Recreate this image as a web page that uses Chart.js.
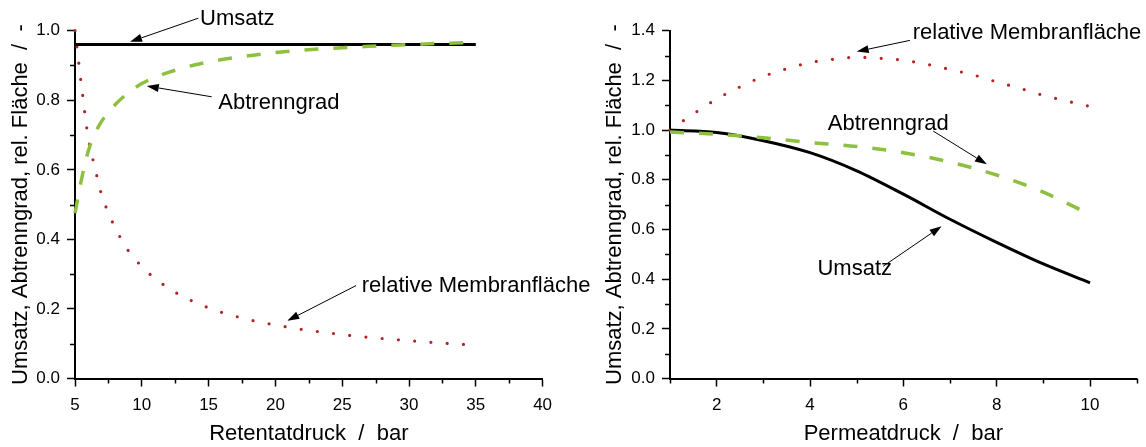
<!DOCTYPE html>
<html>
<head>
<meta charset="utf-8">
<script src="https://cdn.jsdelivr.net/npm/chart.js@4/dist/chart.umd.min.js"></script>
<style>
  html, body { margin: 0; padding: 0; background: #fff; }
  #wrap { position: relative; width: 1146px; height: 447px; }
  .box { position: absolute; top: 0; height: 447px; }
  #leftBox { left: 0; width: 620px; z-index: 2; }
  #rightBox { left: 573px; width: 573px; z-index: 1; }
</style>
</head>
<body>
<div id="wrap">
  <div class="box" id="leftBox"><canvas id="leftChart" width="620" height="447"></canvas></div>
  <div class="box" id="rightBox"><canvas id="rightChart" width="573" height="447"></canvas></div>
</div>
<script>
// left panel: Retentatdruck
const retentatDruck = [5, 5.5, 6, 6.5, 7, 7.5, 8, 9, 10, 11, 12, 13, 14, 15, 16, 17, 18, 19, 20, 22, 24, 26, 28, 30, 32, 35];
const umsatzRetentat = [0.96, 0.96, 0.96, 0.96, 0.96, 0.96, 0.96, 0.96, 0.96, 0.96, 0.96, 0.96, 0.96, 0.96, 0.96, 0.96, 0.96, 0.96, 0.96, 0.96, 0.96, 0.96, 0.96, 0.96, 0.96, 0.96];
const abtrennRetentat = [0.475, 0.575, 0.655, 0.705, 0.74, 0.765, 0.787, 0.822, 0.848, 0.866, 0.88, 0.892, 0.902, 0.91, 0.917, 0.923, 0.928, 0.933, 0.937, 0.944, 0.949, 0.953, 0.957, 0.96, 0.963, 0.966];
const flaecheRetentat = [1.0, 0.837, 0.69, 0.605, 0.527, 0.477, 0.434, 0.367, 0.322, 0.287, 0.26, 0.237, 0.219, 0.203, 0.19, 0.179, 0.169, 0.161, 0.154, 0.141, 0.131, 0.122, 0.115, 0.109, 0.103, 0.096];
const retentatTicks = [5, 10, 15, 20, 25, 30, 35, 40];
const retentatMinor = [7.5, 12.5, 17.5, 22.5, 27.5, 32.5, 37.5];
const leftYTicks = [0, 0.2, 0.4, 0.6, 0.8, 1.0];
const leftYMinor = [0.1, 0.3, 0.5, 0.7, 0.9];

// right panel: Permeatdruck
const permeatDruck = [1, 2, 3, 4, 5, 6, 7, 8, 9, 10];
const umsatzPermeat = [1.0, 0.99, 0.957, 0.909, 0.836, 0.742, 0.641, 0.548, 0.461, 0.385];
const abtrennPermeat = [0.992, 0.983, 0.969, 0.95, 0.934, 0.909, 0.871, 0.819, 0.75, 0.66];
const permeatDruckFein = [1, 1.5, 2, 2.5, 3, 3.5, 4, 4.5, 5, 5.5, 6, 6.5, 7, 7.5, 8, 8.5, 9, 9.5, 10];
const flaechePermeat = [1.0, 1.065, 1.125, 1.174, 1.216, 1.247, 1.272, 1.285, 1.293, 1.289, 1.281, 1.265, 1.244, 1.222, 1.194, 1.168, 1.14, 1.117, 1.095];
const permeatTicks = [2, 4, 6, 8, 10];
const permeatMinor = [1, 3, 5, 7, 9, 11];
const rightYTicks = [0, 0.2, 0.4, 0.6, 0.8, 1.0, 1.2, 1.4];
const rightYMinor = [0.1, 0.3, 0.5, 0.7, 0.9, 1.1, 1.3];

const FONT = "'Liberation Sans', Arial, sans-serif";
Chart.defaults.font.family = FONT;
Chart.defaults.color = "#000";

const toPoints = (xs, ys) => xs.map((x, i) => ({ x: x, y: ys[i] }));

// minor ticks + labels with arrows
const extrasPlugin = {
  id: "extras",
  afterDraw: (chart, args, opts) => {
    const ctx = chart.ctx;
    const xs = chart.scales.x;
    const ys = chart.scales.y;
    const area = chart.chartArea;
    ctx.save();
    ctx.strokeStyle = "#000";
    ctx.lineWidth = 1.5;
    ctx.beginPath();
    opts.xMinor.forEach((v) => {
      const px = Math.round(xs.getPixelForValue(v)) + 0.5;
      ctx.moveTo(px, area.bottom);
      ctx.lineTo(px, area.bottom + 5);
    });
    opts.yMinor.forEach((v) => {
      const py = Math.round(ys.getPixelForValue(v)) + 0.5;
      ctx.moveTo(area.left, py);
      ctx.lineTo(area.left - 5, py);
    });
    ctx.stroke();

    ctx.font = "22px " + FONT;
    ctx.fillStyle = "#000";
    ctx.textAlign = "left";
    ctx.textBaseline = "middle";
    opts.notes.forEach((n) => {
      ctx.fillText(n.text, xs.getPixelForValue(n.at[0]), ys.getPixelForValue(n.at[1]));
      const x0 = xs.getPixelForValue(n.from[0]);
      const y0 = ys.getPixelForValue(n.from[1]);
      const x1 = xs.getPixelForValue(n.to[0]);
      const y1 = ys.getPixelForValue(n.to[1]);
      const ang = Math.atan2(y1 - y0, x1 - x0);
      const len = 12, half = 4;
      ctx.lineWidth = 1;
      ctx.beginPath();
      ctx.moveTo(x0, y0);
      ctx.lineTo(x1 - Math.cos(ang) * len, y1 - Math.sin(ang) * len);
      ctx.stroke();
      ctx.beginPath();
      ctx.moveTo(x1, y1);
      ctx.lineTo(x1 - Math.cos(ang) * len - Math.sin(ang) * half, y1 - Math.sin(ang) * len + Math.cos(ang) * half);
      ctx.lineTo(x1 - Math.cos(ang) * len + Math.sin(ang) * half, y1 - Math.sin(ang) * len - Math.cos(ang) * half);
      ctx.closePath();
      ctx.fill();
    });
    ctx.restore();
  },
};

const makeChart = (canvasId, cfg) => {
  const lines = [
    {
      label: "Abtrenngrad",
      data: cfg.abtrenn,
      borderColor: "#8dc03f",
      borderWidth: 3.5,
      borderDash: [14, 15],
      order: 0,
    },
    {
      label: "Umsatz",
      data: cfg.umsatz,
      borderColor: "#000",
      borderWidth: 3,
      order: 1,
    },
    {
      label: "relative Membranfläche",
      data: cfg.flaeche,
      borderColor: "#b02428",
      borderWidth: 3.2,
      borderDash: [0, 16.3],
      borderCapStyle: "round",
      order: 2,
    },
  ];

  new Chart(document.getElementById(canvasId), {
    type: "line",
    data: { datasets: lines },
    options: {
      responsive: false,
      animation: false,
      events: [],
      layout: { padding: { top: 30.7, right: cfg.padRight, bottom: 0, left: 0 } },
      elements: {
        point: { radius: 0 },
        line: { cubicInterpolationMode: "monotone", fill: false },
      },
      datasets: { line: { clip: 8 } },
      plugins: {
        legend: { display: false },
        tooltip: { enabled: false },
        extras: { xMinor: cfg.xMinor, yMinor: cfg.yMinor, notes: cfg.notes },
      },
      scales: {
        x: {
          type: "linear",
          min: cfg.xMin,
          max: cfg.xMax,
          afterBuildTicks: (s) => { s.ticks = cfg.xTicks.map((v) => ({ value: v })); },
          afterFit: (s) => { s.height = 68.5; },
          border: { display: true, color: "#000", width: 2 },
          grid: { drawOnChartArea: false, drawTicks: true, tickLength: 8, tickWidth: 1.5, tickColor: "#000" },
          ticks: { font: { size: 17 }, padding: 9, maxRotation: 0, autoSkip: false },
          title: { display: true, text: cfg.xTitle, font: { size: 22 }, padding: { top: 0, bottom: 0 } },
        },
        y: {
          type: "linear",
          min: cfg.yMin,
          max: cfg.yMax,
          afterBuildTicks: (s) => { s.ticks = cfg.yTicks.map((v) => ({ value: v })); },
          afterFit: (s) => { s.width = cfg.yWidth; },
          border: { display: true, color: "#000", width: 2 },
          grid: { drawOnChartArea: false, drawTicks: true, tickLength: 8, tickWidth: 1.5, tickColor: "#000" },
          ticks: { font: { size: 17 }, padding: 7, autoSkip: false, callback: (v) => v.toFixed(1) },
          title: { display: true, text: "Umsatz, Abtrenngrad, rel. Fläche  /  -", font: { size: 22 }, padding: { top: cfg.yTitlePad, bottom: 0 } },
        },
      },
    },
    plugins: [extrasPlugin],
  });
};

makeChart("leftChart", {
  umsatz: toPoints(retentatDruck, umsatzRetentat),
  abtrenn: toPoints(retentatDruck, abtrennRetentat),
  flaeche: toPoints(retentatDruck, flaecheRetentat),
  xMin: 5, xMax: 40, yMin: 0, yMax: 1.0,
  xTicks: retentatTicks, xMinor: retentatMinor,
  yTicks: leftYTicks, yMinor: leftYMinor,
  xTitle: "Retentatdruck  /  bar",
  yWidth: 75, yTitlePad: 7.3, padRight: 77.4,
  notes: [
    { text: "Umsatz", at: [14.36, 1.035], from: [14.23, 1.036], to: [9.12, 0.968] },
    { text: "Abtrenngrad", at: [15.73, 0.791], from: [15.23, 0.81], to: [10.37, 0.841] },
    { text: "relative Membranfläche", at: [26.46, 0.265], from: [26.03, 0.267], to: [20.89, 0.166] },
  ],
});

makeChart("rightChart", {
  umsatz: toPoints(permeatDruck, umsatzPermeat),
  abtrenn: toPoints(permeatDruck, abtrennPermeat),
  flaeche: toPoints(permeatDruckFein, flaechePermeat),
  xMin: 1, xMax: 11, yMin: 0, yMax: 1.4,
  xTicks: permeatTicks, xMinor: permeatMinor,
  yTicks: rightYTicks, yMinor: rightYMinor,
  xTitle: "Permeatdruck  /  bar",
  yWidth: 97, yTitlePad: 28.8, padRight: 9.3,
  notes: [
    { text: "relative Membranfläche", at: [6.2, 1.389], from: [6.14, 1.361], to: [5.0, 1.316] },
    { text: "Abtrenngrad", at: [4.38, 1.024], from: [6.64, 0.996], to: [7.79, 0.862] },
    { text: "Umsatz", at: [4.16, 0.44], from: [5.57, 0.452], to: [6.82, 0.613] },
  ],
});
</script>
</body>
</html>
